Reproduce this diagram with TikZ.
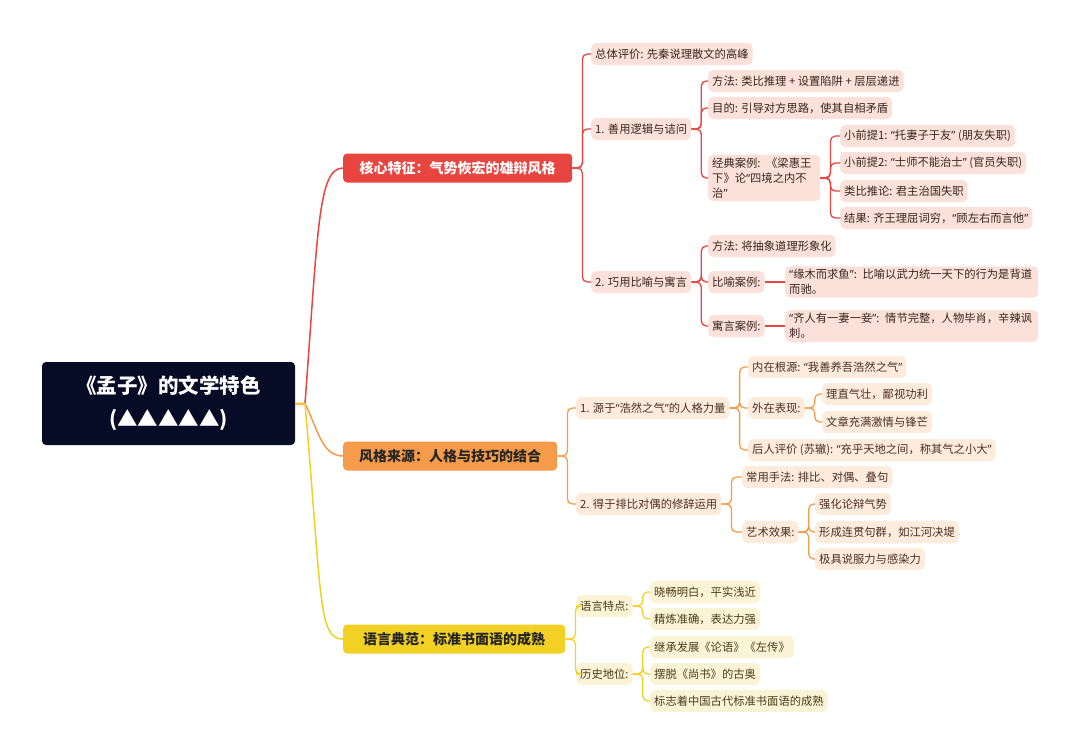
\documentclass[tikz,border=0pt]{standalone}
\usepackage{fontspec}
\setmainfont{Noto Sans CJK SC}
\newfontfamily\latf{Noto Sans}
\newcommand\oq{{\latf “}}
\newcommand\cq{{\latf ”}}
\usetikzlibrary{calc}
\definecolor{cR}{HTML}{E84540}
\definecolor{cO}{HTML}{F59B4A}
\definecolor{cY}{HTML}{F2D024}
\definecolor{fR}{HTML}{FBE1D9}
\definecolor{fO}{HTML}{FDEBDC}
\definecolor{fY}{HTML}{FBF3D6}
\definecolor{tR}{HTML}{3A2420}
\definecolor{tO}{HTML}{4A3020}
\definecolor{tY}{HTML}{4A3C18}
\definecolor{rootc}{HTML}{070C26}
\tikzset{
 x=1pt,y=-1pt,
 leaf/.style={anchor=west,rounded corners=5pt,inner xsep=4pt,inner ysep=3pt,minimum height=22pt,font=\fontsize{11.3}{15}\selectfont,align=left},
 lr/.style={leaf,fill=fR,text=tR},
 lo/.style={leaf,fill=fO,text=tO},
 ly/.style={leaf,fill=fY,text=tY},
 mainbox/.style={anchor=west,rounded corners=4pt,inner xsep=8pt,minimum height=29pt,font=\fontsize{14}{16}\selectfont\bfseries},
 er/.style={draw=cR,line width=1.3pt,rounded corners=5pt},
 eo/.style={draw=cO,line width=1.3pt,rounded corners=5pt},
 ey/.style={draw=cY,line width=1.3pt,rounded corners=5pt},
}
\newcommand\lk[3]{\draw[#1] (#2.east) -- ++(10,0) |- (#3.west);}
\begin{document}
\begin{tikzpicture}
\useasboundingbox (0,0) rectangle (1080,755);
\node[fill=rootc,text=white,rounded corners=4pt,minimum width=253pt,minimum height=83pt,align=center,font=\fontsize{20.5}{33}\selectfont\bfseries] (root) at (168.5,403.5) {《孟子》的文学特色\\(▲▲▲▲▲)};
\node[mainbox,fill=cR,text=white,minimum width=229pt] (m1) at (343,168) {核心特征：气势恢宏的雄辩风格};
\node[mainbox,fill=cO,text=black!85,minimum width=214pt] (m2) at (343,456) {风格来源：人格与技巧的结合};
\node[mainbox,fill=cY,text=black!85,minimum width=222pt] (m3) at (343,639) {语言典范：标准书面语的成熟};
\coordinate (rs) at (305,403.5);
\draw[cR,line width=1.5pt] (root.east) -- (rs) .. controls (318,230) and (318,168) .. (m1.west);
\draw[cO,line width=1.5pt] (root.east) -- (rs) .. controls (318,430) and (322,456) .. (m2.west);
\draw[cY,line width=1.5pt] (root.east) -- (rs) .. controls (322,600) and (318,639) .. (m3.west);
% red
\node[lr] (a1) at (591,54) {总体评价: 先秦说理散文的高峰};
\node[lr] (a2) at (591,129) {1. 善用逻辑与诘问};
\node[lr] (a3) at (591,282) {2. 巧用比喻与寓言};
\node[lr] (b1) at (708,81) {方法: 类比推理 + 设置陷阱 + 层层递进};
\node[lr] (b2) at (708,108) {目的: 引导对方思路，使其自相矛盾};
\node[lr,text width=104pt] (b3) at (708,178) {经典案例: 《梁惠王\\下》论\oq 四境之内不\\治\cq};
\node[lr] (c1) at (840,136) {小前提1: \oq 托妻子于友\cq\ (朋友失职)};
\node[lr] (c2) at (840,163) {小前提2: \oq 士师不能治士\cq\ (官员失职)};
\node[lr] (c3) at (840,191) {类比推论: 君主治国失职};
\node[lr] (c4) at (840,218) {结果: 齐王理屈词穷，\oq 顾左右而言他\cq};
\node[lr] (b4) at (708,246) {方法: 将抽象道理形象化};
\node[lr] (b5) at (708,282) {比喻案例:};
\node[lr] (b6) at (708,326) {寓言案例:};
\node[lr,text width=245pt] (c5) at (785,282) {\oq 缘木而求鱼\cq: 比喻以武力统一天下的行为是背道\\而驰。};
\node[lr,text width=245pt] (c6) at (785,326) {\oq 齐人有一妻一妾\cq: 情节完整，人物毕肖，辛辣讽\\刺。};
\foreach \c in {a1,a2,a3} {\lk{er}{m1}{\c}}
\foreach \c in {b1,b2,b3} {\lk{er}{a2}{\c}}
\foreach \c in {c1,c2,c3,c4} {\lk{er}{b3}{\c}}
\foreach \c in {b4,b5,b6} {\lk{er}{a3}{\c}}
\draw[er] (b5.east) -- (c5.west);
\draw[er] (b6.east) -- (c6.west);
% orange
\node[lo] (d1) at (576,408) {1. 源于\oq 浩然之气\cq 的人格力量};
\node[lo] (d2) at (576,504) {2. 得于排比对偶的修辞运用};
\node[lo] (e1) at (748,367) {内在根源: \oq 我善养吾浩然之气\cq};
\node[lo] (e2) at (748,408) {外在表现:};
\node[lo] (e3) at (748,450) {后人评价 (苏辙): \oq 充乎天地之间，称其气之小大\cq};
\node[lo] (f1) at (822,394) {理直气壮，鄙视功利};
\node[lo] (f2) at (822,422) {文章充满激情与锋芒};
\node[lo] (e4) at (742,477) {常用手法: 排比、对偶、叠句};
\node[lo] (e5) at (742,532) {艺术效果:};
\node[lo] (f3) at (815,504) {强化论辩气势};
\node[lo] (f4) at (815,532) {形成连贯句群，如江河决堤};
\node[lo] (f5) at (815,559) {极具说服力与感染力};
\foreach \c in {d1,d2} {\lk{eo}{m2}{\c}}
\foreach \c in {e1,e2,e3} {\lk{eo}{d1}{\c}}
\foreach \c in {f1,f2} {\lk{eo}{e2}{\c}}
\foreach \c in {e4,e5} {\lk{eo}{d2}{\c}}
\foreach \c in {f3,f4,f5} {\lk{eo}{e5}{\c}}
% yellow
\node[ly] (g1) at (576,606) {语言特点:};
\node[ly] (g2) at (576,674) {历史地位:};
\node[ly] (h1) at (650,592) {晓畅明白，平实浅近};
\node[ly] (h2) at (650,619) {精炼准确，表达力强};
\node[ly] (h3) at (650,647) {继承发展《论语》《左传》};
\node[ly] (h4) at (650,674) {摆脱《尚书》的古奥};
\node[ly] (h5) at (650,701) {标志着中国古代标准书面语的成熟};
\foreach \c in {g1,g2} {\lk{ey}{m3}{\c}}
\foreach \c in {h1,h2} {\lk{ey}{g1}{\c}}
\foreach \c in {h3,h4,h5} {\lk{ey}{g2}{\c}}
\end{tikzpicture}
\end{document}
